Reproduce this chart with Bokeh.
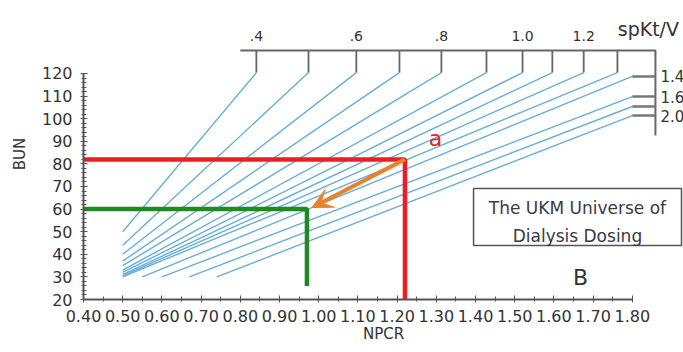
from bokeh.plotting import figure
from bokeh.models import (Range1d, FixedTicker, PrintfTickFormatter, Label,
                          Arrow, VeeHead, ColumnDataSource, BoxAnnotation)
from bokeh.embed import file_html
from bokeh.resources import INLINE

# ---- data ----
npcr_ticks = [0.40, 0.50, 0.60, 0.70, 0.80, 0.90, 1.00, 1.10, 1.20, 1.30,
              1.40, 1.50, 1.60, 1.70, 1.80]
bun_ticks = [20, 30, 40, 50, 60, 70, 80, 90, 100, 110, 120]

# spKt/V iso-lines (start at low NPCR / BUN, end at nomogram scale)
spktv_values = [0.4, 0.5, 0.6, 0.7, 0.8, 0.9, 1.0, 1.1, 1.2, 1.3, 1.4, 1.6, 1.8, 2.0]
line_start_npcr = [0.50, 0.50, 0.50, 0.50, 0.50, 0.50, 0.50, 0.50, 0.50, 0.50,
                   0.55, 0.60, 0.67, 0.74]
line_start_bun = [50, 44, 40, 37, 35, 33, 32, 31, 30.5, 30, 30, 30, 30, 30]
line_end_npcr = [0.841, 0.974, 1.096, 1.206, 1.313, 1.428, 1.520, 1.596, 1.676, 1.762,
                 1.80, 1.80, 1.80, 1.80]
line_end_bun = [120.4] * 10 + [118.7, 109.8, 105.4, 101.4]

# nomogram scale
scale_top_bun = 130.2
scale_right_npcr = 1.859
scale_right_bottom_bun = 92.6
top_label_values = [".4", ".6", ".8", "1.0", "1.2"]
top_label_npcr = [0.841, 1.096, 1.313, 1.520, 1.676]
right_label_values = ["1.4", "1.6", "2.0"]
right_label_bun = [118.7, 109.8, 101.4]

# highlighted patient points
red_npcr, red_bun = 1.22, 82
green_npcr, green_bun = 0.97, 60
green_bottom_bun = 26

BLUE = "#66afd9"
RED = "#ee1c24"
GREEN = "#1f8a22"
ORANGE = "#e8832c"
GREY = "#555555"
TXT = "#333333"
FONT = "DejaVu Sans"

p = figure(width=683, height=352, output_backend="svg", toolbar_location=None,
           x_range=Range1d(0.4, 1.9306), y_range=Range1d(20, 148.76),
           min_border_left=83, min_border_right=0, min_border_top=8,
           min_border_bottom=53)
p.outline_line_color = None
p.xgrid.grid_line_color = None
p.ygrid.grid_line_color = None
p.background_fill_color = "white"

# axes
xa = p.xaxis[0]
xa.ticker = FixedTicker(ticks=npcr_ticks,
                        minor_ticks=[round(0.45 + 0.1 * i, 2) for i in range(14)])
xa.formatter = PrintfTickFormatter(format="%.2f")
xa.bounds = (0.4, 1.8)
xa.axis_label = "NPCR"
ya = p.yaxis[0]
ya.ticker = FixedTicker(ticks=bun_ticks, minor_ticks=list(range(20, 121, 2)))
ya.bounds = (20, 120)
ya.axis_label = "BUN"
for ax in (xa, ya):
    ax.axis_line_color = GREY
    ax.axis_line_width = 2
    ax.major_tick_line_color = GREY
    ax.minor_tick_line_color = GREY
    ax.major_tick_in = 4
    ax.major_tick_out = 3
    ax.minor_tick_in = 3
    ax.minor_tick_out = 2
    ax.major_label_text_font = FONT
    ax.major_label_text_font_size = "16px"
    ax.major_label_text_color = TXT
    ax.axis_label_text_font = FONT
    ax.axis_label_text_font_size = "15px"
    ax.axis_label_text_font_style = "normal"
    ax.axis_label_text_color = TXT
xa.major_label_standoff = 7
xa.axis_label_standoff = 0
ya.major_label_standoff = 8
ya.axis_label_standoff = 10

# spKt/V lines
lines = ColumnDataSource(dict(x0=line_start_npcr, y0=line_start_bun,
                              x1=line_end_npcr, y1=line_end_bun, k=spktv_values))
p.segment("x0", "y0", "x1", "y1", source=lines, line_color=BLUE, line_width=1.4)

# nomogram scale frame
p.line([0.80, scale_right_npcr, scale_right_npcr],
       [scale_top_bun, scale_top_bun, scale_right_bottom_bun],
       line_color="#666666", line_width=2)
top_ticks = ColumnDataSource(dict(x=line_end_npcr[:10], y0=[scale_top_bun] * 10,
                                  y1=line_end_bun[:10]))
p.segment("x", "y0", "x", "y1", source=top_ticks, line_color="#666666", line_width=1.8)
right_ticks = ColumnDataSource(dict(x0=line_end_npcr[10:], x1=[scale_right_npcr] * 4,
                                    y=line_end_bun[10:]))
p.segment("x0", "y", "x1", "y", source=right_ticks, line_color="#777777", line_width=2.5)

for t, xv in zip(top_label_values, top_label_npcr):
    p.add_layout(Label(x=xv, y=136.8, text=t, text_font=FONT, text_font_size="14px",
                       text_color=TXT, text_align="center", text_baseline="middle"))
p.add_layout(Label(x=1.841, y=139.9, text="spKt/V", text_font=FONT, text_font_size="19px",
                   text_color=TXT, text_align="center", text_baseline="middle"))
for t, yv in zip(right_label_values, right_label_bun):
    p.add_layout(Label(x=1.872, y=yv, text=t, text_font=FONT, text_font_size="15px",
                       text_color=TXT, text_align="left", text_baseline="middle"))

# highlighted paths
p.line([0.4, red_npcr, red_npcr], [red_bun, red_bun, 19.5], line_color=RED, line_width=4.5)
p.line([0.4, green_npcr, green_npcr], [green_bun, green_bun, green_bottom_bun],
       line_color=GREEN, line_width=4.5)
p.add_layout(Arrow(end=VeeHead(size=20, fill_color=ORANGE, line_color=ORANGE),
                   x_start=red_npcr, y_start=red_bun, x_end=0.983, y_end=60.7,
                   line_color=ORANGE, line_width=4))
p.add_layout(Label(x=1.298, y=91.2, text="a", text_font=FONT, text_font_size="22px",
                   text_color=RED, text_align="center", text_baseline="middle"))

# caption box
p.add_layout(BoxAnnotation(left=1.395, right=1.9255, top=69.1, bottom=43.9,
                           fill_color="white", fill_alpha=1, line_color="#555555",
                           line_alpha=1, line_width=1.5))
p.add_layout(Label(x=1.660, y=60.3, text="The UKM Universe of", text_font=FONT,
                   text_font_size="17px", text_color="#3a3a46", text_align="center",
                   text_baseline="middle"))
p.add_layout(Label(x=1.660, y=48.3, text="Dialysis Dosing", text_font=FONT,
                   text_font_size="17px", text_color="#3a3a46", text_align="center",
                   text_baseline="middle"))
p.add_layout(Label(x=1.668, y=29.7, text="B", text_font=FONT, text_font_size="22px",
                   text_color=TXT, text_align="center", text_baseline="middle"))

open("out.html", "w").write(file_html(p, INLINE))
